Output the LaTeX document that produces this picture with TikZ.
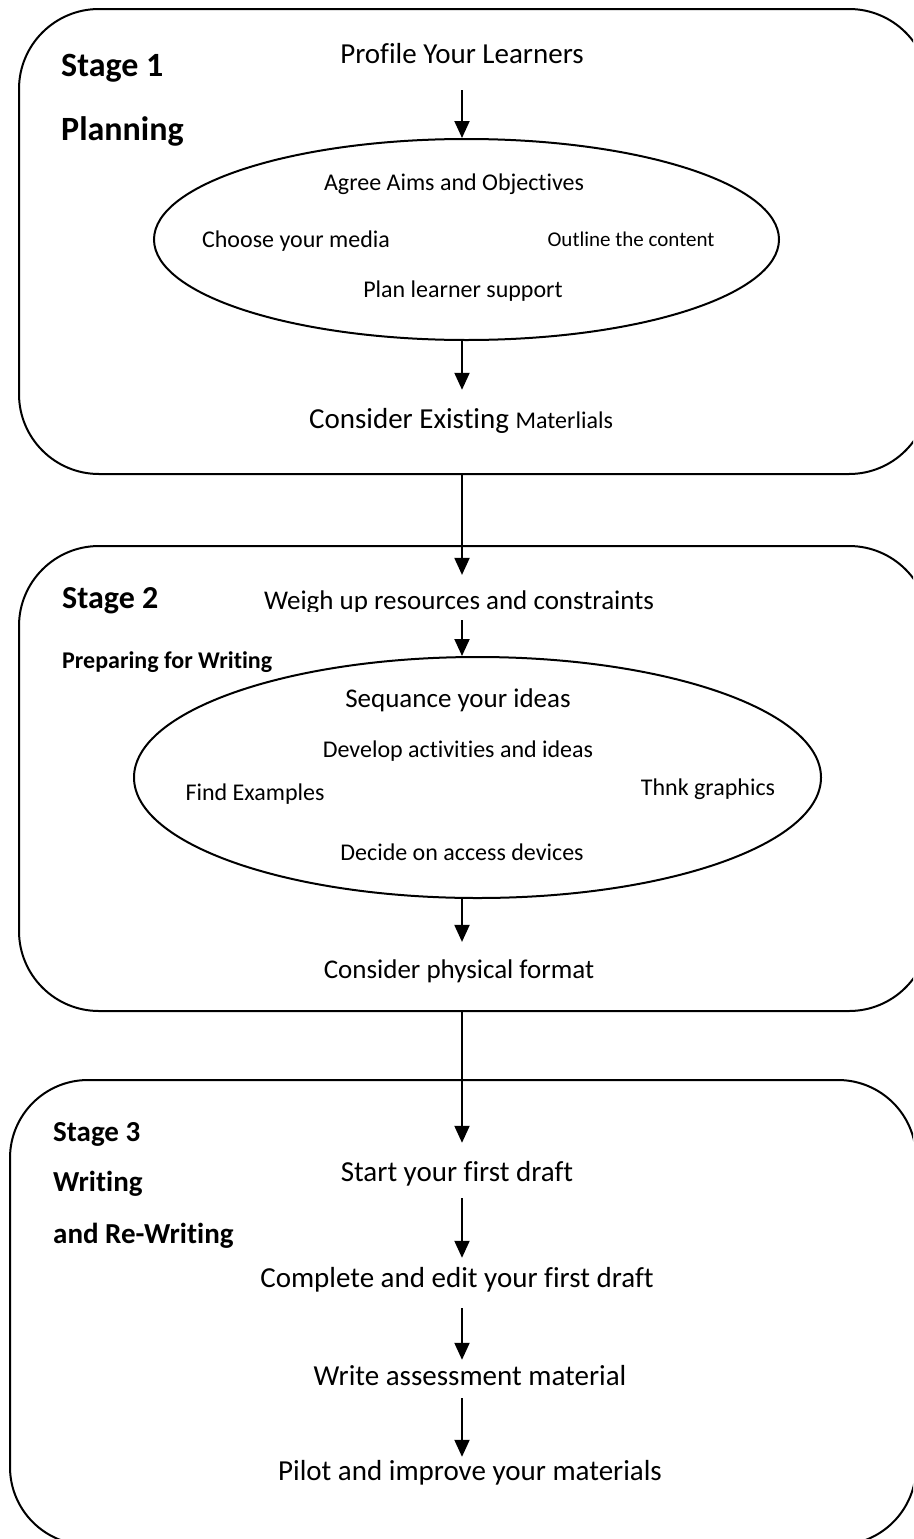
\documentclass[tikz,border=0pt]{standalone}
\usepackage{fontspec}
\setmainfont{Carlito}[Ligatures={NoCommon,NoContextual}]
\usetikzlibrary{shapes.geometric,arrows.meta}
\newcommand\fsz[1]{\fontsize{#1}{#1}\selectfont}
\begin{document}
\begin{tikzpicture}[x=1pt,y=-1pt,
  stagebox/.style={draw, line width=2pt, rounded corners=80pt, minimum width=910pt, minimum height=465pt, inner sep=0},
  idea/.style={draw, ellipse, line width=2pt, inner sep=0},
  tx/.style={inner sep=0, anchor=base, font=\fsz{#1}, text height={0.7*#1pt}, text depth={0.25*#1pt}},
  lbl/.style={inner sep=0, anchor=base west, font=\bfseries\fsz{#1}},
  arr/.style={line width=2pt, -{Triangle[length=17pt,width=15pt]}}]
\useasboundingbox (0,0) rectangle (913,1539);
\clip (0,0) rectangle (913,1539);
\coordinate (axis) at (462,0);

% the three stage frames
\node[stagebox] (box1) at (474,241.5) {};
\node[stagebox] (box2) at (474,778.5) {};
\node[stagebox, minimum width=906pt, rounded corners=78pt] (box3) at (463,1312.5) {};

% Stage 1: planning
\node[lbl=34] (s1) at (61,76) {Stage 1};
\node[lbl=34] (s1b) at (61,140) {Planning};
\node[tx=29] (profile) at (462,63) {Profile Your Learners};
\node[idea, minimum width=625pt, minimum height=201pt] (ell1) at (466.5,239.5) {};
\node[tx=24] (aims) at (454,190) {Agree Aims and Objectives};
\node[tx=24] (media) at (296,247) {Choose your media};
\node[tx=21] (outline) at (631,246) {Outline the content};
\node[tx=24] (support) at (463,297) {Plan learner support};
\node[tx=29] (existing) at (461,428) {Consider Existing {\fsz{24}Materlials}};

% Stage 2: preparing for writing
\node[lbl=32] (s2) at (62,608) {Stage 2};
\begin{scope}
  \clip (200,570) rectangle (720,611);
  \node[tx=27] (weigh) at (459,609) {Weigh up resources and constraints};
\end{scope}
\node[lbl=24] (s2b) at (62,668) {Preparing for Writing};
\node[idea, minimum width=687pt, minimum height=241pt] (ell2) at (477.5,777.5) {};
\node[tx=27] (seq) at (458,707) {Sequance your ideas};
\node[tx=24] (develop) at (458,757) {Develop activities and ideas};
\node[tx=24] (examples) at (255,800) {Find Examples};
\node[tx=24] (graphics) at (708,795) {Thnk graphics};
\node[tx=24] (devices) at (462,860) {Decide on access devices};
\node[tx=27] (format) at (459,978) {Consider physical format};

% Stage 3: writing and re-writing
\node[lbl=29] (s3) at (53,1141) {Stage 3};
\node[lbl=29] (s3b) at (53,1191) {Writing};
\node[lbl=29] (s3c) at (53,1243) {and Re-Writing};
\node[tx=29] (draft) at (457,1181) {Start your first draft};
\node[tx=29] (complete) at (457,1287) {Complete and edit your first draft};
\node[tx=29] (assess) at (470,1385) {Write assessment material};
\node[tx=29] (pilot) at (470,1480) {Pilot and improve your materials};

% flow arrows
\draw[arr, shorten <=19.75pt] (axis |- profile.south) -- (axis |- ell1.north);
\draw[arr, shorten >=17.7pt] (axis |- ell1.south) -- (axis |- existing.north);
\draw[arr, shorten >=15pt] (axis |- box1.south) -- (axis |- weigh.north);
\draw[arr, shorten <=4.25pt] (axis |- weigh.south) -- (axis |- ell2.north);
\draw[arr, shorten >=17pt] (axis |- ell2.south) -- (axis |- format.north);
\draw[arr, shorten >=17.7pt] (axis |- box2.south) -- (axis |- draft.north);
\draw[arr, shorten <=10pt, shorten >=8.7pt] (axis |- draft.south) -- (axis |- complete.north);
\draw[arr, shorten <=13.75pt, shorten >=4.7pt] (axis |- complete.south) -- (axis |- assess.north);
\draw[arr, shorten <=5.75pt, shorten >=2.7pt] (axis |- assess.south) -- (axis |- pilot.north);
\end{tikzpicture}
\end{document}
